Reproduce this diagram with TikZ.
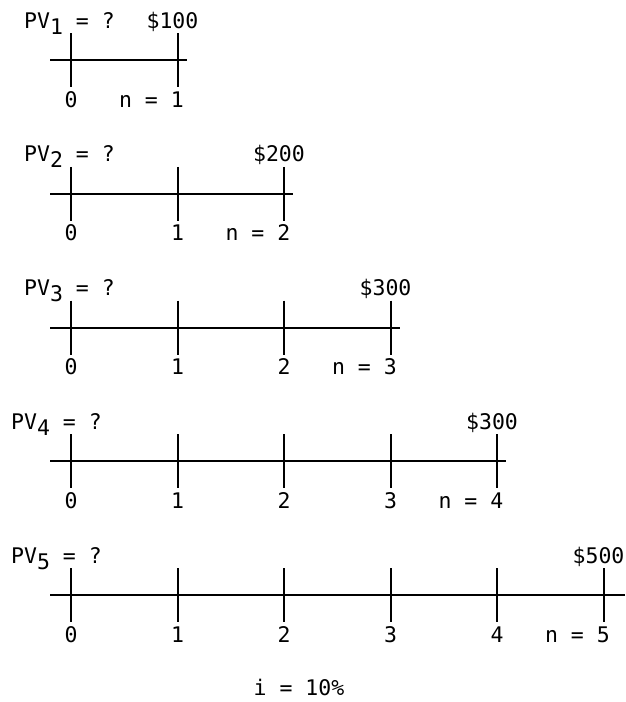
\documentclass[tikz,border=0pt]{standalone}
\usepackage{fontspec}
\setmonofont{DejaVu Sans Mono}

\tikzset{
    lbl/.style={font=\ttfamily\fontsize{21.5}{24}\selectfont, inner sep=0pt, anchor=base},
    axis/.style={line width=2pt},
    tickmark/.style={line width=2pt},
}
\newcommand{\pvlabel}[1]{PV\raisebox{-6pt}{#1} = ?}

\begin{document}
\begin{tikzpicture}[x=1pt, y=-1pt]
    \useasboundingbox (0,0) rectangle (625,702);

    % One time line for each case n = 1,...,5
    \foreach \k/\amt/\pvx in {1/100/24, 2/200/24, 3/300/24, 4/300/11, 5/500/11} {
        \pgfmathsetmacro{\ly}{60 + 133.8*(\k-1)}
        \pgfmathsetmacro{\xend}{\k==5 ? 625 : 80 + 106.5*\k}
        \pgfmathsetmacro{\xlast}{71 + 106.5*\k}

        % Axis
        \coordinate (s\k) at (50, \ly);
        \coordinate (e\k) at (\xend, \ly);
        \draw[axis] (s\k) -- (e\k);

        % Ticks and period numbers
        \foreach \j in {0,...,\k} {
            \pgfmathsetmacro{\tx}{71 + 106.5*\j}
            \coordinate (a\k\j) at (\tx, \ly-27);
            \coordinate (b\k\j) at (\tx, \ly+27);
            \draw[tickmark] (a\k\j) -- (b\k\j);
            \ifnum\j<\k
                \node[lbl] (d\k\j) at (\tx, \ly+47) {\j};
            \else
                \node[lbl, anchor=base east] (n\k) at (\tx+6.5, \ly+47) {n = \j};
            \fi
        }

        % Present value and future amount
        \node[lbl, anchor=base west] (pv\k) at (\pvx, \ly-32) {\pvlabel{\k}};
        \node[lbl] (amt\k) at (\xlast-5, \ly-32) {\$\amt};
    }

    % Interest rate
    \node[lbl] (rate) at (299, 695) {i = 10\%};
\end{tikzpicture}
\end{document}
